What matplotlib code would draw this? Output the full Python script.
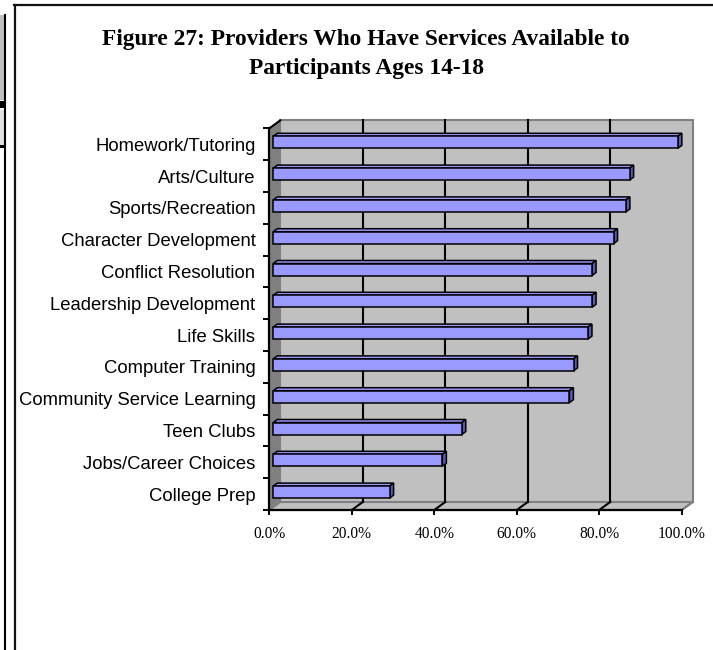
import numpy as np
import matplotlib
matplotlib.use("Agg")
import matplotlib.pyplot as plt
from matplotlib.patches import Polygon, Rectangle
from matplotlib.lines import Line2D

# datos del grafico
categorias = ['Homework/Tutoring', 'Arts/Culture', 'Sports/Recreation',
              'Character Development', 'Conflict Resolution',
              'Leadership Development', 'Life Skills', 'Computer Training',
              'Community Service Learning', 'Teen Clubs',
              'Jobs/Career Choices', 'College Prep']
porcentajes = [98.1, 86.4, 85.5, 82.5, 77.3, 77.3, 76.3, 72.8, 71.8, 45.7, 41.0, 28.2]
ticks_x = [0, 20, 40, 60, 80, 100]
etiquetas_x = ['0.0%', '20.0%', '40.0%', '60.0%', '80.0%', '100.0%']
titulo = ['Figure 27: Providers Who Have Services Available to',
          'Participants Ages 14-18']

W, H = 713, 650
fig = plt.figure(figsize=(W / 100, H / 100), dpi=100)

# ejes: plano frontal de la caja 3D
ax = fig.add_axes([269.3 / W, (H - 510) / H, 412.4 / W, 381.6 / H])
ax.set_xlim(0, 100)
ax.set_ylim(11.5, -0.5)
ax.set_facecolor('none')

PROF = (11, 8)      # profundidad de la caja (px)
BAR0 = (4, 2)       # cara frontal de las barras
BARP = (4, 3)       # grosor de las barras


def mover(x, y, dx, dy):
    p = ax.transData.transform((x, y))
    return ax.transData.inverted().transform(p + np.array([dx, dy]))


def poly(puntos, **kw):
    ax.add_patch(Polygon(puntos, closed=True, clip_on=False, **kw))


# pared del fondo, pared lateral y piso
fondo = [mover(x, y, *PROF) for x, y in [(0, -0.5), (100, -0.5), (100, 11.5), (0, 11.5)]]
poly(fondo, facecolor='#c0c0c0', edgecolor='#808080', lw=1.5, zorder=0)
lado = [(0, -0.5), (0, 11.5), mover(0, 11.5, *PROF), mover(0, -0.5, *PROF)]
poly(lado, facecolor='#808080', edgecolor='#808080', lw=1, zorder=0.1)
piso = [(0, 11.5), (100, 11.5), mover(100, 11.5, *PROF), mover(0, 11.5, *PROF)]
poly(piso, facecolor='#c0c0c0', edgecolor='#808080', lw=1.5, zorder=0.1)

# lineas de la cuadricula
for v in ticks_x[1:-1]:
    a = mover(v, 11.5, *PROF)
    b = mover(v, -0.5, *PROF)
    ax.plot([a[0], b[0]], [a[1], b[1]], color='black', lw=1.5, clip_on=False, zorder=0.2)
for v in ticks_x[1:]:
    b = mover(v, 11.5, *PROF)
    ax.plot([v, b[0]], [11.5, b[1]], color='black' if v < 100 else '#808080',
            lw=1.5, clip_on=False, zorder=0.2)
b = mover(0, -0.5, *PROF)
ax.plot([0, b[0]], [-0.5, b[1]], color='black', lw=1.5, clip_on=False, zorder=0.2)

# barras en 3D
alto = 12 / 31.8
for i, v in enumerate(porcentajes):
    arr, abj = i - alto / 2, i + alto / 2
    f = lambda x, y: mover(x, y, *BAR0)
    t = lambda x, y: mover(x, y, BAR0[0] + BARP[0], BAR0[1] + BARP[1])
    poly([f(0, arr), f(v, arr), t(v, arr), t(0, arr)],
         facecolor='#9999ff', edgecolor='black', lw=1.1, zorder=3)
    poly([f(v, arr), f(v, abj), t(v, abj), t(v, arr)],
         facecolor='#5a5ab0', edgecolor='black', lw=1.1, zorder=3)
    poly([f(0, arr), f(v, arr), f(v, abj), f(0, abj)],
         facecolor='#9999ff', edgecolor='black', lw=1.1, zorder=4)

# ejes y marcas
for s in ['top', 'right']:
    ax.spines[s].set_visible(False)
for s in ['left', 'bottom']:
    ax.spines[s].set_linewidth(1.6)
    ax.spines[s].set_zorder(5)

ax.set_yticks(range(len(categorias)))
ax.set_yticklabels(categorias, family='Liberation Sans', fontsize=13.3)
ax.set_yticks(np.arange(-0.5, 12, 1), minor=True)
ax.tick_params(axis='y', which='major', length=0, pad=10)
ax.tick_params(axis='y', which='minor', length=4.5, width=1.4, direction='out')

ax.set_xticks(ticks_x)
ax.set_xticklabels(etiquetas_x, family='Liberation Serif', fontsize=11.2)
ax.tick_params(axis='x', length=3.8, width=1.4, direction='out', pad=7.5)

# titulo
fig.text(366 / W, 1 - 45 / H, titulo[0], ha='center', va='baseline',
         family='Liberation Serif', weight='bold', fontsize=16.8)
fig.text(367 / W, 1 - 74 / H, titulo[1], ha='center', va='baseline',
         family='Liberation Serif', weight='bold', fontsize=16.8)

# marco del grafico y restos de la pagina a la izquierda
fig.add_artist(Line2D([15 / W, 15 / W], [0, 1 - 5 / H], color='#111111', lw=1.6,
                      transform=fig.transFigure))
fig.add_artist(Line2D([14 / W, 1], [1 - 5 / H, 1 - 5 / H], color='#111111', lw=1.6,
                      transform=fig.transFigure))
fig.add_artist(Rectangle((0, 1 - 100 / H), 4 / W, 85 / H, facecolor='#c0c0c0',
                         edgecolor='none', transform=fig.transFigure))
fig.add_artist(Rectangle((0, 1 - 108 / H), 5 / W, 7 / H, facecolor='black',
                         edgecolor='none', transform=fig.transFigure))
fig.add_artist(Rectangle((0, 1 - 145 / H), 4 / W, 35 / H, facecolor='#e0e0e0',
                         edgecolor='none', transform=fig.transFigure))
fig.add_artist(Rectangle((0, 1 - 148 / H), 5 / W, 3 / H, facecolor='black',
                         edgecolor='none', transform=fig.transFigure))
fig.add_artist(Line2D([5 / W, 5 / W], [0, 1 - 15 / H], color='black', lw=1.5,
                      transform=fig.transFigure))

fig.savefig('out.png', dpi=100)
